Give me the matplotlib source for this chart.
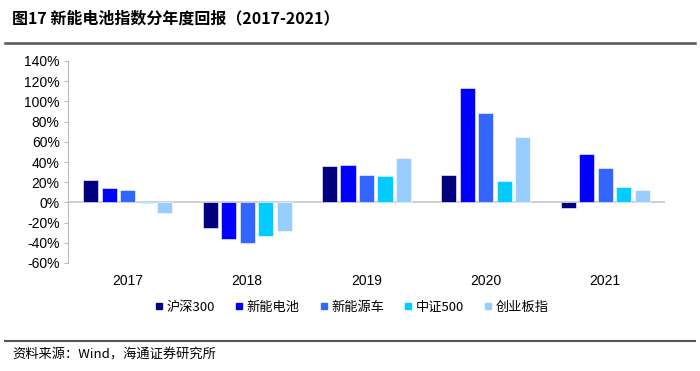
import matplotlib.pyplot as plt
import numpy as np
from matplotlib.lines import Line2D

plt.rcParams['font.family'] = ['Liberation Sans', 'Noto Sans CJK SC', 'DejaVu Sans']

years = ['2017', '2018', '2019', '2020', '2021']
series = ['沪深300', '新能电池', '新能源车', '中证500', '创业板指']
hs300 = [21.8, -25.3, 36.1, 27.2, -5.2]
battery = [14, -36, 37, 113, 48]
nev = [12, -40, 27, 89, 34]
zz500 = [-0.2, -33.3, 26.4, 20.9, 15.6]
cyb = [-10.7, -28.7, 43.8, 65.0, 12.0]
colors = ['#000080', '#0000FF', '#3366FF', '#00CCFF', '#99CCFF']

fig = plt.figure(figsize=(7, 3.71), dpi=100)
ax = fig.add_axes([68/700, 1-263/371, 597/700, 202/371])

x = np.arange(len(years))
w = 0.126
step = 0.155
for i, (vals, c) in enumerate(zip([hs300, battery, nev, zz500, cyb], colors)):
    ax.bar(x + (i - 2) * step, vals, width=w, color=c, edgecolor='white', linewidth=0.4, zorder=3)

ax.set_xlim(-0.5, 4.5)
ax.set_ylim(-60, 140)
ax.set_yticks(range(-60, 141, 20))
ax.set_yticklabels([f'{v}%' for v in range(-60, 141, 20)], fontsize=10)
ax.set_xticks(x)
ax.set_xticklabels(years, fontsize=10)
ax.tick_params(axis='x', length=0, pad=8)
ax.tick_params(axis='y', length=3, color='#BBBBBB', pad=3)
for s in ['top', 'right', 'bottom']:
    ax.spines[s].set_visible(False)
ax.spines['left'].set_color('#BBBBBB')
ax.axhline(0, color='#C8C8C8', linewidth=1.2, zorder=2)

handles = [Line2D([], [], marker='s', linestyle='', markersize=4.5, color=c) for c in colors]
fig.legend(handles, series, loc='center', bbox_to_anchor=(352/700, 1-307/371), ncol=5,
           frameon=False, handlelength=0.6, handletextpad=0.3, columnspacing=1.5,
           prop={'family': ['Noto Sans CJK SC'], 'size': 9.5})

fig.text(12/700, 1-18/371, '图17 新能电池指数分年度回报（2017-2021）', fontsize=11.5,
         fontweight='bold', va='center', ha='left', family=['Noto Sans CJK SC'])
fig.add_artist(Line2D([5/700, 695/700], [1-43/371, 1-43/371], color='#555555', linewidth=1.8))
fig.add_artist(Line2D([5/700, 695/700], [1-341/371, 1-341/371], color='#555555', linewidth=1.5))
fig.text(12/700, 1-355/371, '资料来源：Wind，海通证券研究所', fontsize=9.5, va='center', ha='left',
         family=['Noto Sans CJK SC'])

fig.savefig('out.png', dpi=100)
